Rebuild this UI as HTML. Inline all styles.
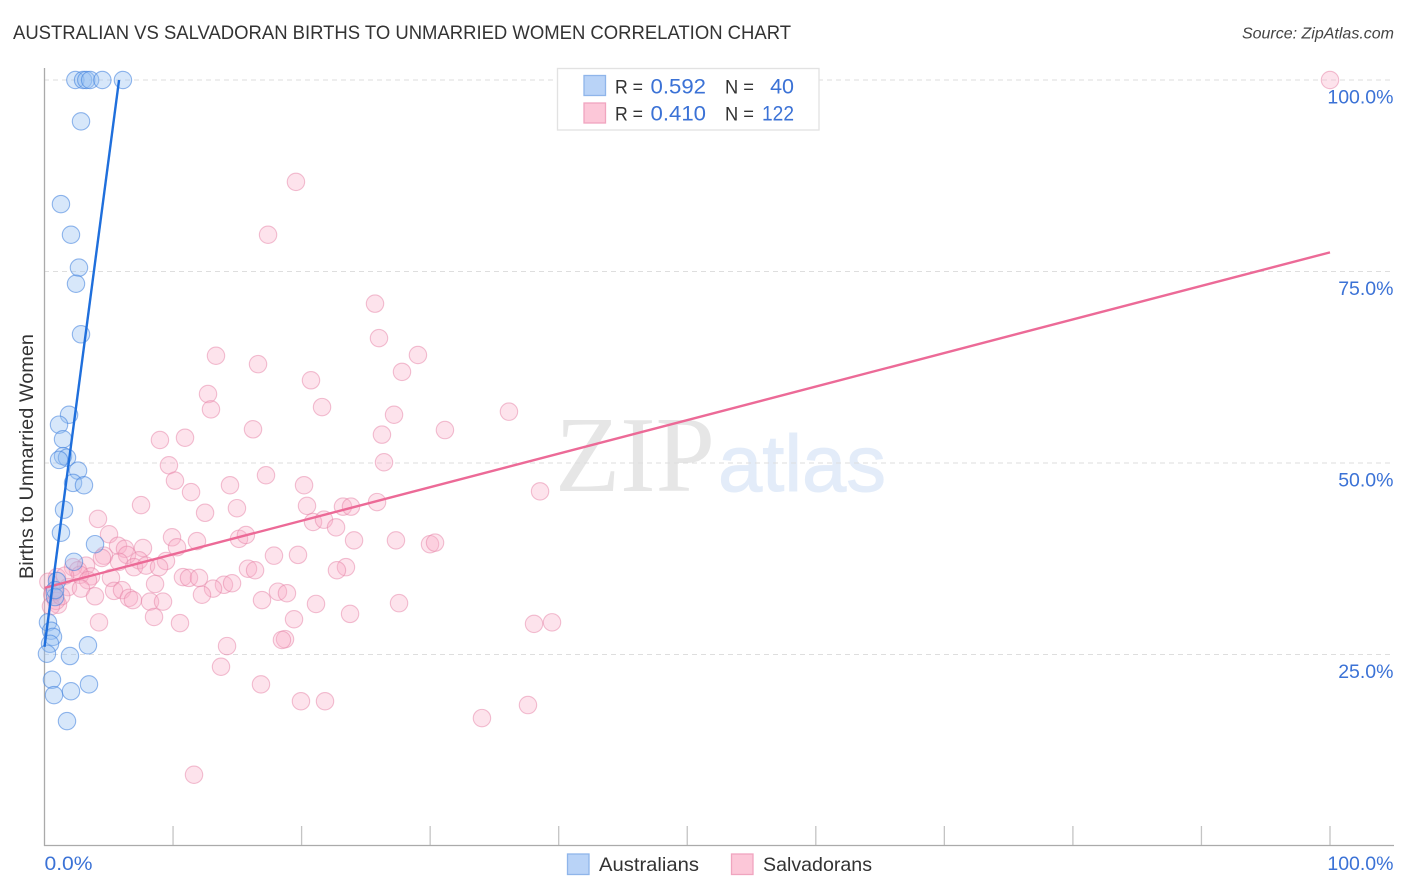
<!DOCTYPE html>
<html lang="en">
<head>
<meta charset="utf-8">
<title>Australian vs Salvadoran Births to Unmarried Women Correlation Chart</title>
<style>
html,body{margin:0;padding:0;background:#fff;width:1406px;height:892px;overflow:hidden}
svg{display:block;font-family:"Liberation Sans",sans-serif}
</style>
</head>
<body>
<svg id="chart" xmlns="http://www.w3.org/2000/svg" width="1406" height="892" viewBox="0 0 1406 892">
  <rect x="0" y="0" width="1406" height="892" fill="#ffffff"/>
  <text x="13" y="39" font-size="19.2" fill="#333333" textLength="778" lengthAdjust="spacingAndGlyphs">AUSTRALIAN VS SALVADORAN BIRTHS TO UNMARRIED WOMEN CORRELATION CHART</text>
  <text x="1394" y="38.5" font-size="16" font-style="italic" fill="#444444" text-anchor="end">Source: ZipAtlas.com</text>
  <text transform="translate(33,456.5) rotate(-90)" font-size="19.2" fill="#333333" text-anchor="middle" textLength="245" lengthAdjust="spacingAndGlyphs">Births to Unmarried Women</text>

  <g>
    <text x="555" y="491" font-family="'Liberation Serif',serif" font-size="108" fill="#e6e6e6" textLength="160" lengthAdjust="spacingAndGlyphs">ZIP</text>
    <text x="718" y="491" font-size="80" fill="#e3ecf9" stroke="#e3ecf9" stroke-width="1" textLength="168" lengthAdjust="spacingAndGlyphs">atlas</text>
  </g>

  <g id="grid"></g>
  <g id="xticks"></g>
  <line x1="44.5" y1="68" x2="44.5" y2="846" stroke="#aaaaaa" stroke-width="1.3"/>
  <line x1="44" y1="845.5" x2="1394" y2="845.5" stroke="#aaaaaa" stroke-width="1.3"/>
  <g id="ylabels"></g>
  <g id="pointsSal"></g>
  <g id="pointsAus"></g>
  <g id="trends"></g>

  <text x="44.5" y="870" font-size="19.5" fill="#3b72d6" textLength="48" lengthAdjust="spacingAndGlyphs">0.0%</text>
  <text x="1393.5" y="870" font-size="19.5" fill="#3b72d6" text-anchor="end">100.0%</text>

  <g>
    <rect x="557.5" y="68.5" width="261.5" height="61.5" fill="#ffffff" stroke="#e2e2e2" stroke-width="1.3"/>
    <rect x="584" y="75.5" width="21.5" height="20" fill="#b9d3f7" stroke="#8fb5ea" stroke-width="1.3"/>
    <rect x="584" y="103" width="21.5" height="20" fill="#fcc7d8" stroke="#f0a5bf" stroke-width="1.3"/>
    <text x="615" y="93.5" font-size="19.5" fill="#333333" textLength="28" lengthAdjust="spacingAndGlyphs">R =</text>
    <text x="650.5" y="93.5" font-size="21.5" fill="#3b72d6" textLength="55.5" lengthAdjust="spacingAndGlyphs">0.592</text>
    <text x="725" y="93.5" font-size="19.5" fill="#333333" textLength="29" lengthAdjust="spacingAndGlyphs">N =</text>
    <text x="794" y="93.5" font-size="21.5" fill="#3b72d6" text-anchor="end">40</text>
    <text x="615" y="120.5" font-size="19.5" fill="#333333" textLength="28" lengthAdjust="spacingAndGlyphs">R =</text>
    <text x="650.5" y="120.5" font-size="21.5" fill="#3b72d6" textLength="55.5" lengthAdjust="spacingAndGlyphs">0.410</text>
    <text x="725" y="120.5" font-size="19.5" fill="#333333" textLength="29" lengthAdjust="spacingAndGlyphs">N =</text>
    <text x="762" y="120.5" font-size="21.5" fill="#3b72d6" textLength="32" lengthAdjust="spacingAndGlyphs">122</text>
  </g>

  <g>
    <rect x="567.5" y="854" width="21.5" height="20.5" fill="#b9d3f7" stroke="#8fb5ea" stroke-width="1.3"/>
    <text x="599" y="871" font-size="19.5" fill="#333333" textLength="100" lengthAdjust="spacingAndGlyphs">Australians</text>
    <rect x="731.5" y="854" width="21.5" height="20.5" fill="#fcc7d8" stroke="#f0a5bf" stroke-width="1.3"/>
    <text x="763" y="871" font-size="19.5" fill="#333333" textLength="109" lengthAdjust="spacingAndGlyphs">Salvadorans</text>
  </g>
</svg>
<script>
const yTickValues = [25, 50, 75, 100];
const yTickLabels = ["25.0%", "50.0%", "75.0%", "100.0%"];
const xTickValues = [10, 20, 30, 40, 50, 60, 70, 80, 90, 100];

const australianX = [2.4,3.0,3.25,3.55,4.5,6.1,2.84,1.28,2.06,2.68,2.45,2.84,1.91,1.13,1.44,1.44,1.75,1.13,2.61,2.22,3.07,1.52,1.28,3.93,2.29,0.97,0.82,0.27,0.51,0.66,0.43,0.19,1.98,3.38,0.58,0.74,3.46,2.06,1.75,0.82];
const australianY = [100,100,100,100,100,100,94.6,83.8,79.8,75.5,73.4,66.8,56.3,55,53.1,50.9,50.7,50.4,49,47.4,47.1,43.9,40.9,39.4,37.1,34.6,32.5,29.2,28.1,27.3,26.4,25.1,24.8,26.2,21.7,19.7,21.1,20.2,16.3,33.4];

const salvadoranX = [100,19.56,17.39,25.71,26.02,29.05,13.34,16.61,27.81,20.73,12.72,21.59,12.95,27.19,36.13,31.15,16.22,26.25,10.93,8.98,26.41,9.68,17.23,10.15,14.43,20.19,11.40,38.55,7.51,14.97,12.49,20.42,25.87,23.22,23.84,4.16,20.89,21.74,22.68,5.02,9.92,24.08,27.34,11.86,15.13,15.67,29.99,30.38,5.72,6.26,7.66,10.31,19.72,17.85,4.63,4.47,6.42,7.35,9.45,5.80,6.96,7.90,8.91,3.23,2.22,2.61,0.97,23.45,22.75,15.83,16.38,10.77,11.24,12.02,5.17,3.62,2.76,3.38,8.60,13.96,14.59,13.11,1.83,2.84,5.41,6.03,12.25,16.92,18.16,18.86,21.12,27.58,6.57,6.88,8.21,9.22,3.93,1.05,4.24,8.52,10.54,19.41,23.77,38.08,39.48,14.20,18.71,18.47,13.73,16.84,19.95,21.82,37.61,34.03,11.63,0.3,0.6,0.75,0.9,0.5,1.3,1.6];
const salvadoranY = [100,86.7,79.8,70.8,66.3,64.1,64,62.9,61.9,60.8,59,57.3,57,56.3,56.7,54.3,54.4,53.7,53.3,53,50.1,49.7,48.4,47.7,47.1,47.1,46.2,46.3,44.5,44.1,43.5,44.4,44.9,44.3,44.3,42.7,42.3,42.6,41.6,40.7,40.3,39.9,39.9,39.8,40.1,40.6,39.4,39.6,39.2,38.8,38.9,39,38,37.9,37.9,37.6,38,37.3,37.2,37.1,36.4,36.6,36.4,36.6,36.4,36,35.1,36.4,36,36.2,36,35.1,35,35,35,35.2,35.4,34.7,34.2,34.1,34.3,33.6,33.8,33.6,33.3,33.4,32.8,32.1,33.2,33,31.6,31.7,32.4,32.1,31.9,31.9,32.6,31.5,29.2,29.9,29.1,29.6,30.3,29,29.2,26.1,27,26.9,23.4,21.1,18.9,18.9,18.4,16.7,9.3,34.5,32.8,33.2,32,31.3,32.6,35.3];

const australianTrendX = [0, 5.8];
const australianTrendY = [26, 100];
const salvadoranTrendX = [0, 100];
const salvadoranTrendY = [33.7, 77.5];

const SVG_NS = "http://www.w3.org/2000/svg";
function xScale(v) { return 44.5 + v * 12.855; }
function yScale(v) { return 846 - v * 7.66; }
function make(tag, attrs, parent) {
  const el = document.createElementNS(SVG_NS, tag);
  for (const k in attrs) el.setAttribute(k, attrs[k]);
  parent.appendChild(el);
  return el;
}

const gridGroup = document.getElementById("grid");
const yLabelGroup = document.getElementById("ylabels");
yTickValues.forEach(function (v, i) {
  const line = make("line", {x1: 44, x2: 1394, y1: yScale(v), y2: yScale(v), stroke: "#dedede", "stroke-width": 1, "stroke-dasharray": "5 4"}, gridGroup);
  
  
  const label = make("text", {x: 1393.5, y: yScale(v) + 23.5, "font-size": 19.5, fill: "#3b72d6", "text-anchor": "end"}, yLabelGroup);
  label.textContent = yTickLabels[i];
  
  
});

const xTickGroup = document.getElementById("xticks");
xTickValues.forEach(function (v) {
  const tick = make("line", {x1: xScale(v), x2: xScale(v), y1: 826, y2: 846, stroke: "#c4c4c4", "stroke-width": 1.3}, xTickGroup);
  
  
});

function drawPoints(xs, ys, group, fill, stroke, name) {
  xs.forEach(function (x, i) {
    const c = make("circle", {cx: xScale(x), cy: yScale(ys[i]), r: 8.7, fill: fill, stroke: stroke, "stroke-width": 1.1}, group);
    
    
  });
}
drawPoints(salvadoranX, salvadoranY, document.getElementById("pointsSal"), "rgba(248,172,198,0.34)", "rgba(230,130,165,0.5)", "salvadoran-point");
drawPoints(australianX, australianY, document.getElementById("pointsAus"), "rgba(150,192,242,0.38)", "rgba(60,125,220,0.55)", "australian-point");

const trendGroup = document.getElementById("trends");
const trendSal = make("line", {x1: xScale(salvadoranTrendX[0]), y1: yScale(salvadoranTrendY[0]), x2: xScale(salvadoranTrendX[1]), y2: yScale(salvadoranTrendY[1]), stroke: "#ec6a97", "stroke-width": 2.4}, trendGroup);


const trendAus = make("line", {x1: xScale(australianTrendX[0]), y1: yScale(australianTrendY[0]), x2: xScale(australianTrendX[1]), y2: yScale(australianTrendY[1]), stroke: "#1f6fdc", "stroke-width": 2.4}, trendGroup);


</script>
</body>
</html>
